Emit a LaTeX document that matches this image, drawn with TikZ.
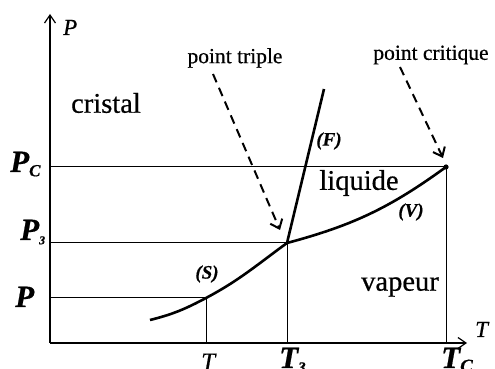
\documentclass[tikz,border=0pt]{standalone}
\usepackage{fontspec}
\setmainfont{Liberation Serif}[FakeBold=0.6]
\usepackage{tikz}
\usetikzlibrary{arrows.meta}

\newcommand{\indice}[2]{\raisebox{-0.3ex}{\fontsize{#1}{#1}\selectfont #2}}

\begin{document}
\begin{tikzpicture}[x=1pt, y=1pt,
    ax/.style={line width=1.2pt, -{Straight Barb[length=8pt,width=11pt,line width=1.2pt]}},
    fin/.style={line width=1pt},
    courbe/.style={line width=2.6pt},
    zone/.style={font=\fontsize{28.5}{30}\selectfont, inner sep=0pt},
    nom/.style={font=\fontsize{19}{21}\selectfont\bfseries\itshape, inner sep=0pt},
    tick/.style={font=\fontsize{31}{33}\selectfont\bfseries\itshape, inner sep=0pt, anchor=base west},
    note/.style={font=\fontsize{21.5}{23}\selectfont, inner sep=0pt},
    ptr/.style={line width=2pt, dash pattern=on 9pt off 6pt,
                -{Straight Barb[length=8pt,width=13pt,line width=2pt]}}]
  \useasboundingbox (0,0) rectangle (495,369);
  % axes
  \coordinate (O) at (50,26);
  \coordinate (ytop) at (50,355);
  \coordinate (xend) at (467,26);
  \draw[ax] (O) -- (ytop);
  \draw[ax] (O) -- (xend);
  \node[font=\fontsize{23}{25}\selectfont\itshape, inner sep=0pt, anchor=base west] (lP) at (63,334) {P};
  \node[font=\fontsize{23}{25}\selectfont\itshape, inner sep=0pt, anchor=base west] (lT) at (475,32) {T};
  % points remarquables
  \coordinate (s0) at (150,49);
  \coordinate (sp) at (206,71);
  \coordinate (tp) at (287,126);
  \coordinate (cp) at (446,202);
  \coordinate (f1) at (324,280);
  \draw[fin] (O |- cp) -- (cp) -- (cp |- O);
  \draw[fin] (O |- tp) -- (tp) -- (tp |- O);
  \draw[fin] (O |- sp) -- (sp) -- (sp |- O);
  % courbes
  \draw[courbe] (s0) to[out=14,in=208] (sp) to[out=28,in=216] (tp);
  \draw[courbe] (tp) to[out=15,in=216] (cp);
  \draw[courbe] (tp) -- (f1);
  \fill (cp) circle (2.6pt);
  % graduations
  \node[tick] (pc) at (10,197) {P\indice{17}{C}};
  \node[tick] (p3) at (20,129) {P\indice{12}{3}};
  \node[tick] (pp) at (15,62) {P};
  \node[font=\fontsize{25}{27}\selectfont\itshape, inner sep=0pt, anchor=base west] (tt) at (201,-1) {T};
  \node[tick] (t3) at (279,1) {T\indice{15}{3}};
  \node[tick] (tc) at (441,1) {T\indice{19}{C}};
  % zones
  \node[zone] (cristal) at (106,266) {cristal};
  \node[zone] (liquide) at (359,186) {liquide};
  \node[zone] (vapeur) at (400,82) {vapeur};
  \node[nom] (nF) at (329,228) {(F)};
  \node[nom] (nV) at (411,157) {(V)};
  \node[nom] (nS) at (207,95) {(S)};
  % fleches
  \node[note] (triple) at (235,311) {point triple};
  \node[note] (critique) at (431,314) {point critique};
  \coordinate (a1) at (213,295);
  \coordinate (a2) at (280,139);
  \coordinate (b1) at (400,302);
  \coordinate (b2) at (443,211);
  \draw[ptr] (a1) -- (a2);
  \draw[ptr] (b1) -- (b2);
\end{tikzpicture}
\end{document}
